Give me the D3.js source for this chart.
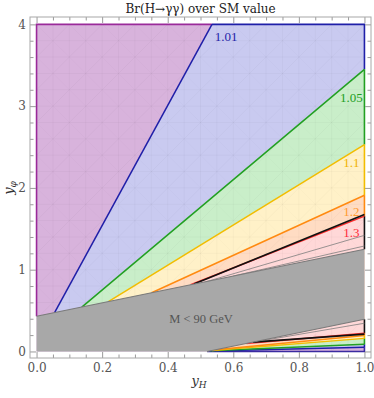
<!DOCTYPE html>
<html><head><meta charset="utf-8">
<script src="https://cdn.jsdelivr.net/npm/d3@7"></script>
<style>
html,body{margin:0;padding:0;background:#fff;}
svg{display:block;}
</style></head>
<body>
<svg id="chart" width="374" height="398"></svg>
<script>
// ---- data ----
const levels = ["1.01", "1.05", "1.1", "1.2", "1.3"];
// upper-side contour lines: start on gray boundary, end on frame
const upperStartX = [0.055, 0.138, 0.219, 0.351, 0.47];
const upperStartY = [0.475, 0.543, 0.61, 0.718, 0.815];
const upperEndX   = [0.535, 1, 1, 1, 1];
const upperEndY   = [4, 3.45, 2.53, 1.91, 1.655];
// lower-side contour lines
const lowerStartX = [0.528, 0.53, 0.535, 0.545, 0.64];
const lowerStartY = [0.006, 0.008, 0.012, 0.02, 0.0975];
const lowerEndY   = [0.05, 0.088, 0.16, 0.195, 0.222];
// black boundary lines
const blackUpper = [[0.48, 0.824], [1, 1.675]];
const blackLower = [[0.66, 0.114], [1, 0.212]];
// gray excluded region boundaries (M < 90 GeV)
const grayUpper = [[0, 0.43], [1, 1.25]];
const grayLower = [[0.52, 0], [1, 0.394]];
// thin lines inside the pink region
const pinkLines = [
  [[0.52, 0.856], [1, 1.42]],
  [[0.6, 0.922], [1, 1.29]],
  [[0.65, 0.106], [1, 0.345]]
];
const labelX = [0.578, 0.96, 0.96, 0.96, 0.96];
const labelY = [3.80, 3.056, 2.26, 1.657, 1.404];
const grayLabel = {text: "M < 90 GeV", x: 0.5015, y: 0.352};
const xTicks = [0, 0.2, 0.4, 0.6, 0.8, 1.0];
const yTicks = [0, 1, 2, 3, 4];
const title = "Br(H\u2192\u03b3\u03b3) over SM value";

// ---- styles ----
const bandFill   = ["#d8b3dc", "#c9caf0", "#c9eec9", "#fff1c8", "#ffdcc3", "#ffd8d8"];
const bandEdge   = ["#9a2a9a", "#1f1fa8", "#22a022", "#f2bd00", "#ff8a10", "#111111"];
const levelColor = ["#1f1fa8", "#22a022", "#f2bd00", "#ff8a10", "#ff2a2a"];
const labelColor = ["#1f1fa8", "#22a022", "#f0b400", "#ff9a30", "#ff2a3a"];

const svg = d3.select("#chart");
const x = d3.scaleLinear().domain([-0.02, 1.02]).range([30, 371]);
const y = d3.scaleLinear().domain([-0.08, 4.09]).range([358, 17]);
const line = d3.line().x(d => x(d[0])).y(d => y(d[1]));
const P = (a, b) => [a, b];

const g = svg.append("g");

// base purple region
g.append("path").attr("d", line([P(0,0), P(0,4), P(1,4), P(1,0)]) + "Z")
  .attr("fill", bandFill[0]);

// layered regions (value >= level)
levels.forEach((lv, i) => {
  const pts = [P(upperStartX[i], upperStartY[i]), P(upperEndX[i], upperEndY[i])];
  if (upperEndX[i] < 1) pts.push(P(1, 4));
  pts.push(P(1, lowerEndY[i]), P(lowerStartX[i], lowerStartY[i]));
  g.append("path").attr("d", line(pts) + "Z").attr("fill", bandFill[i + 1]);
});

// faint mesh pattern
const clipId = "dataclip";
svg.append("clipPath").attr("id", clipId).append("rect")
  .attr("x", x(0)).attr("y", y(4)).attr("width", x(1) - x(0)).attr("height", y(0) - y(4));
const mesh = g.append("g").attr("stroke", "#000")
  .attr("stroke-width", 0.8).attr("fill", "none").attr("clip-path", `url(#${clipId})`);
const step = 0.05;
d3.range(0, 1.0001, step).forEach(v => {
  mesh.append("line").attr("x1", x(v)).attr("x2", x(v)).attr("y1", y(0)).attr("y2", y(4))
    .attr("stroke-opacity", 0.04);
});
d3.range(0, 4.0001, step * 4).forEach(v => {
  mesh.append("line").attr("x1", x(0)).attr("x2", x(1)).attr("y1", y(v)).attr("y2", y(v))
    .attr("stroke-opacity", 0.04);
});
d3.range(-1, 1.0001, step * 2).forEach(v => {
  mesh.append("line").attr("x1", x(v)).attr("y1", y(0)).attr("x2", x(v + 1)).attr("y2", y(4))
    .attr("stroke-opacity", 0.04);
  mesh.append("line").attr("x1", x(v)).attr("y1", y(4)).attr("x2", x(v + 1)).attr("y2", y(0))
    .attr("stroke-opacity", 0.025);
});

// edges of the data rectangle
const edges = g.append("g").attr("fill", "none").attr("stroke-width", 1.6);
edges.append("path").attr("d", line([P(0, grayUpper[0][1]), P(0, 4), P(upperEndX[0], 4)])).attr("stroke", bandEdge[0]);
edges.append("path").attr("d", line([P(upperEndX[0], 4), P(1, 4), P(1, upperEndY[1])])).attr("stroke", bandEdge[1]);
for (let k = 2; k <= 4; k++) {
  edges.append("path").attr("d", line([P(1, upperEndY[k - 1]), P(1, upperEndY[k])])).attr("stroke", bandEdge[k]);
}
edges.append("path").attr("d", line([P(1, upperEndY[4]), P(1, grayUpper[1][1])])).attr("stroke", bandEdge[5]);
edges.append("path").attr("d", line([P(1, grayLower[1][1]), P(1, lowerEndY[4])])).attr("stroke", bandEdge[5]);
for (let k = 4; k >= 1; k--) {
  edges.append("path").attr("d", line([P(1, lowerEndY[k]), P(1, lowerEndY[k - 1])])).attr("stroke", bandEdge[k]);
}
edges.append("path").attr("d", line([P(1, lowerEndY[0]), P(1, 0), P(grayLower[0][0], 0)])).attr("stroke", "#3a2aa0");

// thin lines in pink region
pinkLines.forEach(l => {
  g.append("path").attr("d", line(l)).attr("fill", "none").attr("stroke", "#7d7d7d").attr("stroke-width", 0.8);
});

// contour lines
levels.forEach((lv, i) => {
  g.append("path").attr("d", line([P(upperStartX[i], upperStartY[i]), P(upperEndX[i], upperEndY[i])]))
    .attr("fill", "none").attr("stroke", levelColor[i]).attr("stroke-width", 1.5);
  g.append("path").attr("d", line([P(lowerStartX[i], lowerStartY[i]), P(1, lowerEndY[i])]))
    .attr("fill", "none").attr("stroke", levelColor[i]).attr("stroke-width", 1.5);
});
[blackUpper, blackLower].forEach(l => {
  g.append("path").attr("d", line(l)).attr("fill", "none").attr("stroke", "#111").attr("stroke-width", 1.7);
});

// gray excluded region
g.append("path").attr("d", line([P(0, 0), grayUpper[0], grayUpper[1], grayLower[1], grayLower[0]]) + "Z")
  .attr("fill", "#a8a8a8");
[grayUpper, grayLower].forEach(l => {
  g.append("path").attr("d", line(l)).attr("fill", "none").attr("stroke", "#7a7a7a").attr("stroke-width", 1.1);
});

// labels
const serif = "'Liberation Serif', 'Times New Roman', serif";
levels.forEach((lv, i) => {
  g.append("text").attr("x", x(labelX[i])).attr("y", y(labelY[i]))
    .attr("text-anchor", "middle").attr("font-family", serif).attr("font-size", 13)
    .attr("fill", labelColor[i]).text(lv);
});
g.append("text").attr("x", x(grayLabel.x)).attr("y", y(grayLabel.y))
  .attr("text-anchor", "middle").attr("font-family", serif).attr("font-size", 12.5)
  .attr("fill", "#555").text(grayLabel.text);

// frame and ticks
const fontTick = "'DejaVu Serif', serif";
const xMinor = d3.range(0, 1.0001, 0.05).filter(v => Math.abs(v / 0.2 - Math.round(v / 0.2)) > 1e-6);
const yMinor = d3.range(0, 4.0001, 0.2).filter(v => Math.abs(v - Math.round(v)) > 1e-6);
function styleAxis(sel) {
  sel.select(".domain").remove();
  sel.selectAll(".tick line").attr("stroke", "#9a9a9a");
  sel.selectAll(".tick text").attr("fill", "#555").attr("font-family", fontTick).attr("font-size", 12);
}
const fr = svg.append("g");
fr.append("g").attr("transform", `translate(0,${y.range()[0]})`)
  .call(d3.axisBottom(x).tickValues(xTicks).tickSize(-6).tickPadding(5).tickFormat(d3.format(".1f"))).call(styleAxis);
fr.append("g").attr("transform", `translate(0,${y.range()[0]})`)
  .call(d3.axisBottom(x).tickValues(xMinor).tickSize(-3.5).tickFormat("")).call(styleAxis);
fr.append("g").attr("transform", `translate(0,${y.range()[1]})`)
  .call(d3.axisTop(x).tickValues(xTicks).tickSize(-6).tickFormat("")).call(styleAxis);
fr.append("g").attr("transform", `translate(0,${y.range()[1]})`)
  .call(d3.axisTop(x).tickValues(xMinor).tickSize(-3.5).tickFormat("")).call(styleAxis);
fr.append("g").attr("transform", `translate(${x.range()[0]},0)`)
  .call(d3.axisLeft(y).tickValues(yTicks).tickSize(-6).tickPadding(4).tickFormat(d3.format("d"))).call(styleAxis);
fr.append("g").attr("transform", `translate(${x.range()[0]},0)`)
  .call(d3.axisLeft(y).tickValues(yMinor).tickSize(-3.5).tickFormat("")).call(styleAxis);
fr.append("g").attr("transform", `translate(${x.range()[1]},0)`)
  .call(d3.axisRight(y).tickValues(yTicks).tickSize(-6).tickFormat("")).call(styleAxis);
fr.append("g").attr("transform", `translate(${x.range()[1]},0)`)
  .call(d3.axisRight(y).tickValues(yMinor).tickSize(-3.5).tickFormat("")).call(styleAxis);
fr.append("rect").attr("x", x.range()[0]).attr("y", y.range()[1])
  .attr("width", x.range()[1] - x.range()[0]).attr("height", y.range()[0] - y.range()[1])
  .attr("fill", "none").attr("stroke", "#a8a8a8").attr("stroke-width", 1);

// title and axis labels
svg.append("text").attr("x", (x.range()[0] + x.range()[1]) / 2).attr("y", 13)
  .attr("text-anchor", "middle").attr("font-family", fontTick).attr("font-size", 12)
  .attr("fill", "#222").text(title);
const xl = svg.append("text").attr("x", 199).attr("y", 385).attr("text-anchor", "middle")
  .attr("font-family", fontTick).attr("font-style", "italic").attr("font-size", 13).attr("fill", "#333");
xl.append("tspan").text("y");
xl.append("tspan").attr("font-size", 9).attr("dy", 3).text("H");
const yl = svg.append("text").attr("transform", "translate(13,188) rotate(-90)").attr("text-anchor", "middle")
  .attr("font-family", fontTick).attr("font-style", "italic").attr("font-size", 13).attr("fill", "#333");
yl.append("tspan").text("y");
yl.append("tspan").attr("font-size", 9).attr("dy", 3).text("\u03c6");
</script>
</body></html>
